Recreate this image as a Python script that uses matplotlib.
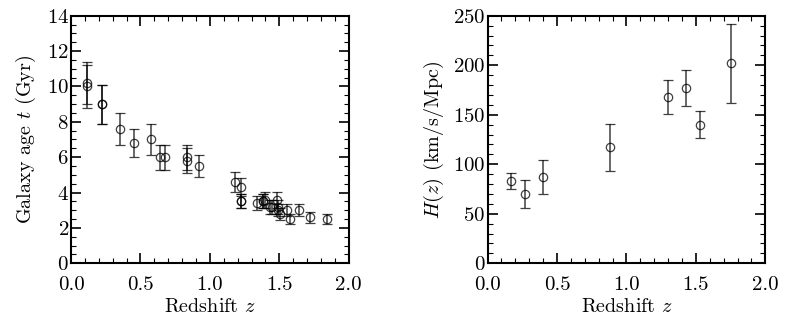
import matplotlib
matplotlib.use("Agg")
import matplotlib.pyplot as plt
from matplotlib.ticker import MultipleLocator, FormatStrFormatter

# galaxy ages (left panel)
z_age = [0.117, 0.117, 0.225, 0.225, 0.355, 0.453, 0.573, 0.640, 0.678,
         0.832, 0.832, 0.923, 1.178, 1.223, 1.222, 1.224, 1.336, 1.380,
         1.383, 1.394, 1.430, 1.450, 1.484, 1.488, 1.492, 1.508, 1.552,
         1.576, 1.642, 1.724, 1.842]
age = [10.2, 10.0, 9.0, 9.0, 7.6, 6.8, 7.0, 6.0, 6.0, 6.0, 5.8, 5.5, 4.6,
       4.3, 3.5, 3.5, 3.4, 3.5, 3.5, 3.6, 3.2, 3.2, 3.6, 3.2, 3.0, 2.8,
       3.0, 2.5, 3.0, 2.6, 2.5]
age_err = [1.2, 1.2, 1.1, 1.1, 0.9, 0.8, 0.85, 0.7, 0.7, 0.7, 0.7, 0.65,
           0.55, 0.5, 0.4, 0.4, 0.4, 0.4, 0.4, 0.45, 0.4, 0.4, 0.45, 0.4,
           0.35, 0.35, 0.35, 0.3, 0.35, 0.3, 0.3]

# Hubble parameter (right panel)
z_h = [0.17, 0.27, 0.40, 0.88, 1.30, 1.43, 1.53, 1.75]
hz = [83, 70, 87, 117, 168, 177, 140, 202]
hz_err = [8, 14, 17.4, 23.4, 17, 18, 14, 40]

plt.rcParams['font.family'] = 'serif'
plt.rcParams['font.serif'] = ['cmr10', 'DejaVu Serif']
plt.rcParams['mathtext.fontset'] = 'cm'
plt.rcParams['axes.formatter.use_mathtext'] = True
plt.rcParams['font.size'] = 14.5

fig = plt.figure(figsize=(7.89, 3.21), dpi=100)
ax1 = fig.add_axes([0.090, 0.180, 0.352, 0.771])
ax2 = fig.add_axes([0.618, 0.180, 0.352, 0.771])

style = dict(fmt='o', mfc='none', mec='black', ecolor='black', color='black',
             ms=6, mew=0.9, elinewidth=1.1, capsize=3.5, capthick=1.1, alpha=0.75)

ax1.errorbar(z_age, age, yerr=age_err, **style)
ax2.errorbar(z_h, hz, yerr=hz_err, **style)

ax1.set_xlim(0, 2)
ax1.set_ylim(0, 14)
ax1.set_ylabel('Galaxy age $t$ (Gyr)', labelpad=6)
ax1.yaxis.set_major_locator(MultipleLocator(2))
ax1.yaxis.set_minor_locator(MultipleLocator(0.5))

ax2.set_xlim(0, 2)
ax2.set_ylim(0, 250)
ax2.set_ylabel('$H(z)$ (km/s/Mpc)', labelpad=5)
ax2.yaxis.set_major_locator(MultipleLocator(50))
ax2.yaxis.set_minor_locator(MultipleLocator(10))

for ax in (ax1, ax2):
    ax.set_xlabel('Redshift $z$', labelpad=3)
    ax.xaxis.set_major_locator(MultipleLocator(0.5))
    ax.xaxis.set_minor_locator(MultipleLocator(0.1))
    ax.xaxis.set_major_formatter(FormatStrFormatter('%.1f'))
    ax.tick_params(which='both', direction='in', top=True, right=True,
                   labelsize=15)
    ax.tick_params(which='major', length=7, width=1.2)
    ax.tick_params(which='minor', length=3.5, width=0.8)
    ax.tick_params(axis='x', which='major', pad=9)
    ax.tick_params(axis='y', which='major', pad=1.5)
    for s in ax.spines.values():
        s.set_linewidth(1.5)

plt.savefig("out.png", dpi=100)
